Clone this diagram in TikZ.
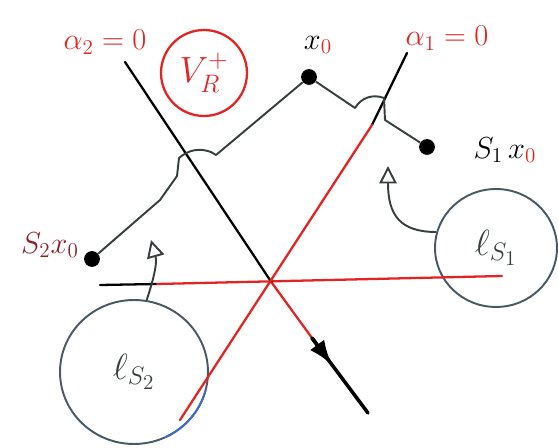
\documentclass[tikz,border=0pt]{standalone}
\usepackage{amsmath,amssymb}
\usetikzlibrary{arrows.meta, shapes.geometric, calc}
\definecolor{wallRed}{RGB}{228,35,35}
\definecolor{walkGray}{RGB}{55,62,62}
\definecolor{blobEdge}{RGB}{72,88,100}
\definecolor{blobBlue}{RGB}{60,110,200}
\definecolor{lblDark}{RGB}{140,30,40}

\begin{document}
\begin{tikzpicture}[
    x=0.02cm, y=-0.02cm,
    wall/.style={line width=1.3pt, line cap=round},
    walk/.style={line width=1.1pt, draw=walkGray, line join=round},
    dot/.style={circle, fill=black, inner sep=0pt, minimum size=9pt},
    lbl/.style={font=\LARGE, inner sep=1pt},
    blob/.style={ellipse, draw=blobEdge, line width=1.1pt, inner sep=0pt, font=\huge, text=walkGray},
    pointer/.style={-{Triangle[open, length=3.5mm, width=3.5mm]}, line width=1.1pt, draw=walkGray}
]

\useasboundingbox (0,0) rectangle (558,448);

% Regions
\node[blob, minimum width=2.44cm, minimum height=2.36cm] (ls1) at (496,248) {$\ell_{S_1}$};
\node[blob, minimum width=2.96cm, minimum height=2.88cm] (ls2) at (134,372) {$\ell_{S_2}$};
\draw[blobBlue, line width=1.1pt] (ls2.center) ++(15:74 and 72) arc[start angle=15, end angle=65, x radius=74, y radius=72];

% Walls
\coordinate (O) at (272,283);
\coordinate (a2top) at (125,62);
\coordinate (a2mid) at (312,338);
\coordinate (a2end) at (368,413);
\coordinate (a1top) at (407,53);
\coordinate (a1mid) at (372,125);
\coordinate (a1end) at (180,420);
\coordinate (hleft) at (100,285);
\coordinate (hmid) at (157,284);
\coordinate (hright) at (502,276);

\draw[wall, black] (hleft) -- (hmid);
\draw[wall, wallRed] (hmid) -- (hright);
\draw[wall, black] (a2top) -- (O);
\draw[wall, wallRed] (O) -- (a2mid);
\draw[wall, black, line width=2pt] (a2mid) -- (a2end);
\draw[-{Latex[length=5mm, width=3.5mm]}, black, line width=2pt] (a2mid) -- ($(a2mid)!0.36!(a2end)$);
\draw[wall, black] (a1top) -- (a1mid);
\draw[wall, wallRed] (a1mid) -- (a1end);

% Points of the orbit
\node[dot] (x0) at (309,77) {};
\node[dot] (s1x0) at (427,147) {};
\node[dot] (s2x0) at (92,259) {};

% Path with hops over the walls
\draw[walk] (s2x0) -- (160,200) -- (177,176) -- (179,158) to[bend left=30] (211,152) -- (216,155) -- (x0)
    -- (355,108) to[bend left=40] (384,98) -- (385,120) -- (s1x0);

% Labels
\node[lbl, text=wallRed] (alpha2) at (105,42) {$\alpha_2=0$};
\node[lbl, text=wallRed] (alpha1) at (447,38) {$\alpha_1=0$};
\node[circle, draw=wallRed, line width=1.3pt, minimum size=1.72cm, inner sep=0pt, font=\huge, text=wallRed] (vr) at (204,73) {$V_R^+$};
\node[lbl] (x0lbl) at (318,45) {$x_{\color{wallRed}0}$};
\node[lbl] (s1lbl) at (505,150) {$S_1\,x_{\color{wallRed}0}$};
\node[lbl, text=lblDark] (s2lbl) at (50,245) {$S_2x_0$};

% Pointers from the regions
\draw[pointer] (ls1.165) .. controls (400,232) and (388,215) .. (388,166);
\draw[pointer] (ls2.80) .. controls (150,290) and (158,265) .. (151,240);

\end{tikzpicture}
\end{document}
